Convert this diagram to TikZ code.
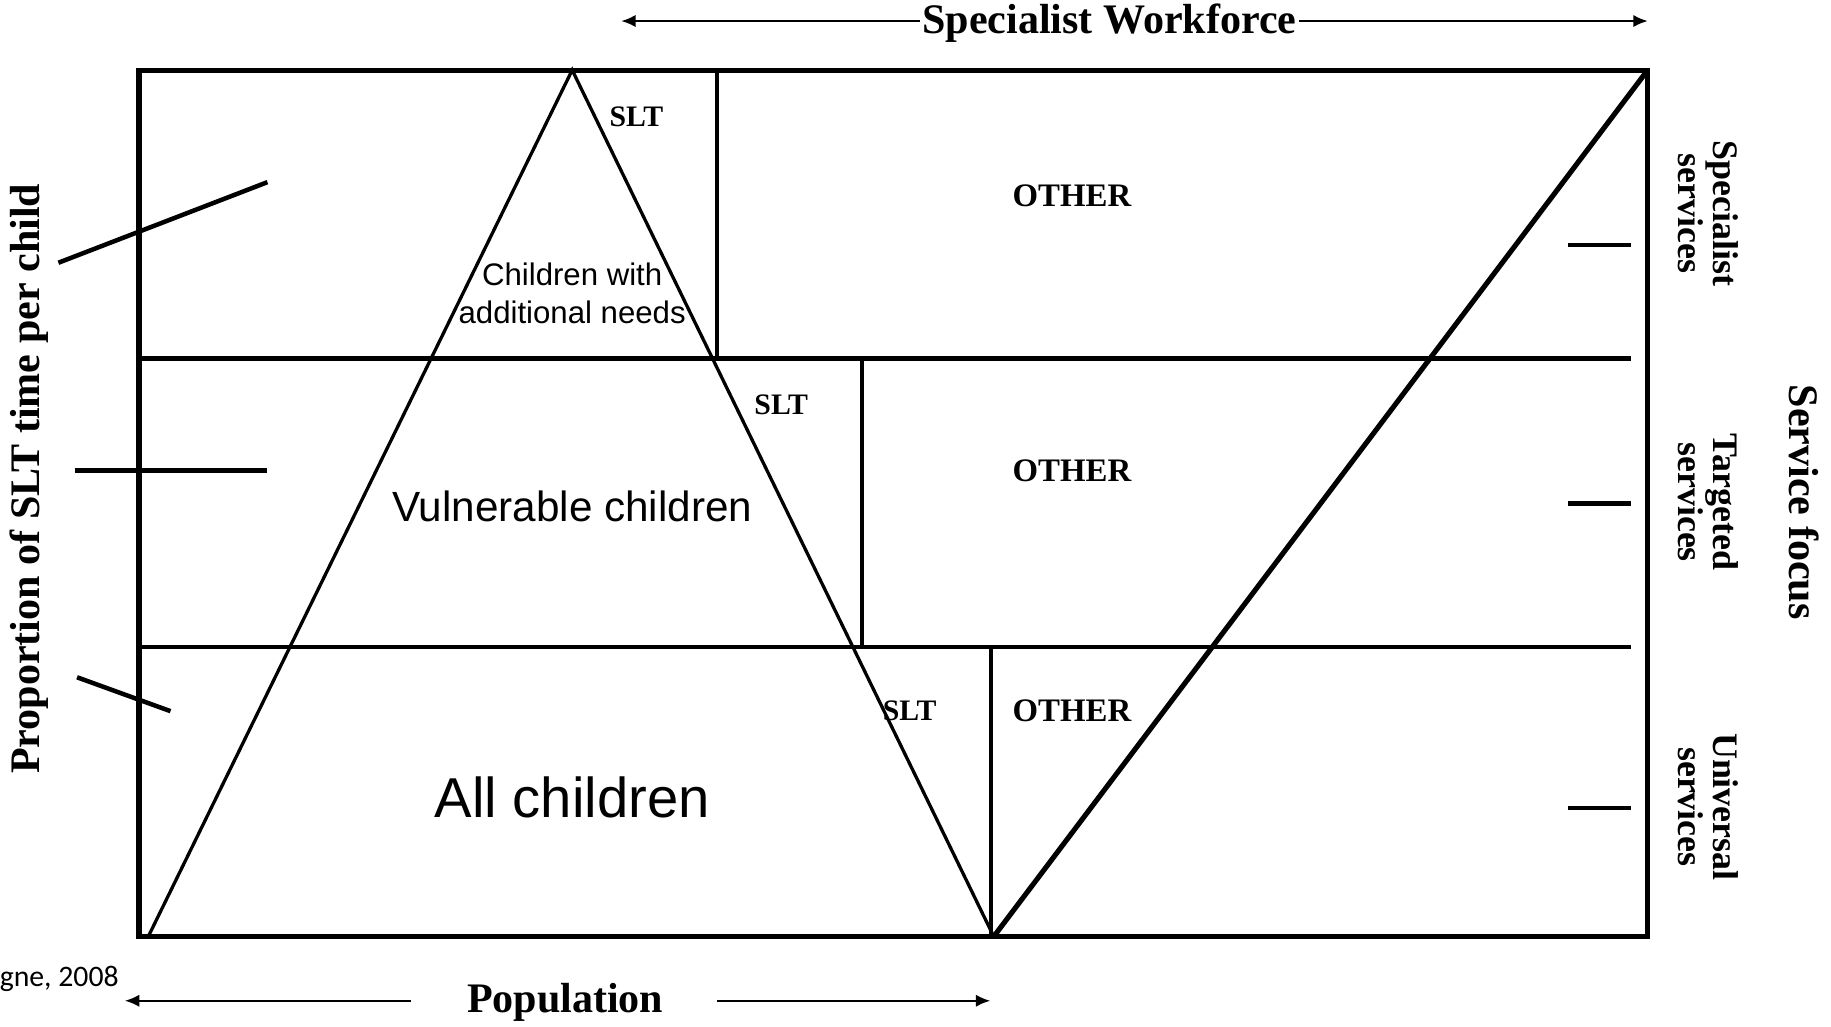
\documentclass[tikz,border=0pt]{standalone}
\usepackage{fontspec}
\setmainfont{Liberation Serif}
\setsansfont{Liberation Sans}
\newfontfamily\notefont{Carlito}
\usetikzlibrary{arrows.meta}

\begin{document}
\begin{tikzpicture}[x=0.02cm, y=-0.02cm,
  frame/.style={line width=2.5pt},
  pyramid/.style={line width=1.6pt},
  divider/.style={line width=2pt},
  tick/.style={line width=2.2pt},
  axisarrow/.style={line width=1pt, -{Latex[length=7pt, width=6pt]}},
  axislabel/.style={font=\bfseries\fontsize{20.5}{24}\selectfont, inner sep=1pt},
  sltlabel/.style={font=\bfseries\fontsize{14.5}{17}\selectfont},
  otherlabel/.style={font=\bfseries\fontsize{16}{19}\selectfont},
  tierlabel/.style={rotate=-90, align=center, font=\bfseries\fontsize{17.5}{17}\selectfont}]

\newcommand{\boxleft}{119}
\newcommand{\boxright}{1411}
\newcommand{\boxtop}{60}
\newcommand{\boxbottom}{802}
\newcommand{\bandone}{307}
\newcommand{\bandtwo}{554}
\newcommand{\bandend}{1397}

\useasboundingbox (0,0) rectangle (1568,879);

\coordinate (apex) at (490,\boxtop);
\coordinate (baseL) at (127,\boxbottom);
\coordinate (baseR) at (851,\boxbottom);
\coordinate (topR) at (\boxright,\boxtop);

% frame and bands
\draw[frame] (\boxleft,\boxtop) rectangle (\boxright,\boxbottom);
\draw[divider] (\boxleft,\bandone) -- (\bandend,\bandone);
\draw[divider] (\boxleft,\bandtwo) -- (\bandend,\bandtwo);
\draw[divider] (614,\boxtop) -- (614,\bandone);
\draw[divider] (738,\bandone) -- (738,\bandtwo);
\draw[divider] (849,\bandtwo) -- (849,\boxbottom);

% pyramid of children
\draw[pyramid, line join=miter] (baseL) -- (apex) -- (baseR);
\draw[frame] (baseL) -- (baseR);

% workforce wedge
\draw[frame] (baseR) -- (topR);

% ticks on the left
\draw[tick] (50,225) -- (229,156);
\draw[tick] (64,403) -- (229,403);
\draw[tick] (66,580) -- (146,609);

% ticks on the right
\foreach \ty in {210,431,692}
  \draw[tick] (1343,\ty) -- (1397,\ty);

% labels inside
\node[sltlabel] (slta) at (545,100) {SLT};
\node[otherlabel] (othera) at (918,168) {OTHER};
\node[align=center, font=\sffamily\fontsize{15.2}{18.7}\selectfont] (needs) at (490,251) {Children with\\additional needs};
\node[sltlabel] (sltb) at (669,347) {SLT};
\node[otherlabel] (otherb) at (918,403) {OTHER};
\node[font=\sffamily\fontsize{20.6}{24}\selectfont] (vulnerable) at (490,434) {Vulnerable children};
\node[sltlabel] (sltc) at (779,609) {SLT};
\node[otherlabel] (otherc) at (918,609) {OTHER};
\node[font=\sffamily\fontsize{27.4}{32}\selectfont] (allkids) at (490,683) {All children};

% axes
\node[axislabel] (workforce) at (950,20) {Specialist Workforce};
\coordinate (wfL) at (532,18);
\coordinate (wfR) at (1411,18);
\draw[axisarrow] (workforce.west |- wfL) -- (wfL);
\draw[axisarrow] (workforce.east |- wfR) -- (wfR);

\node[axislabel] (population) at (484,858) {Population};
\coordinate (popL) at (107,857);
\coordinate (popR) at (848,857);
\draw[axisarrow] (352,857) -- (popL);
\draw[axisarrow] (614,857) -- (popR);

\node[axislabel, rotate=90] (proportion) at (25,410) {Proportion of SLT time per child};
\node[axislabel, rotate=-90] (focus) at (1545,430) {Service focus};

\node[tierlabel] (specialist) at (1463,183) {Specialist\\services};
\node[tierlabel] (targeted) at (1463,430) {Targeted\\services};
\node[tierlabel] (universal) at (1463,691) {Universal\\services};

\node[anchor=east, font=\notefont\fontsize{14.5}{17}\selectfont, inner sep=0pt] (source) at (102,838) {gne, 2008};

\end{tikzpicture}
\end{document}
